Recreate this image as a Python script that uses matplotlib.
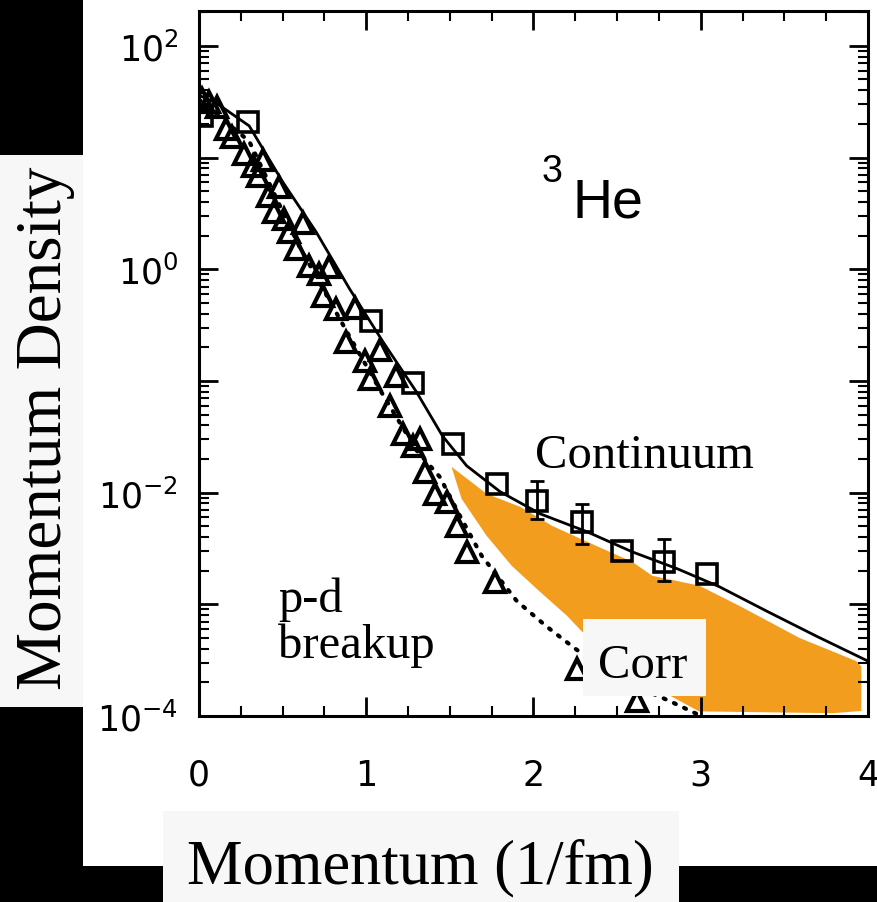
import numpy as np
import matplotlib
matplotlib.use("Agg")
import matplotlib.pyplot as plt
from matplotlib.patches import Rectangle
from matplotlib.ticker import LogLocator, MultipleLocator, FuncFormatter, NullFormatter

W, H = 878, 903

# total momentum density (squares, data)
k_sq = [0.02, 0.29, 1.03, 1.28, 1.52, 1.78, 2.02, 2.29, 2.53, 2.78, 3.04]
n_sq = [23.6, 21.0, 0.345, 0.096, 0.0274, 0.012, 0.00845, 0.0055, 0.0030, 0.0024, 0.00188]
# error bars on a few squares
k_err = [2.02, 2.29, 2.78]
n_err = [0.00845, 0.0055, 0.0024]
n_err_lo = [0.00582, 0.00348, 0.00162]
n_err_hi = [0.01277, 0.00794, 0.00386]

# p-d breakup (triangles)
k_tri = [0.02, 0.06, 0.11, 0.16, 0.20, 0.27, 0.32, 0.35, 0.41, 0.45, 0.51, 0.54, 0.58,
         0.66, 0.72, 0.74, 0.82, 0.88, 0.99, 1.02, 1.14, 1.22, 1.28, 1.32, 1.35, 1.41,
         1.48, 1.54, 1.60, 1.77, 2.26, 2.62,
         0.38, 0.48, 0.62, 0.78, 0.93, 1.08, 1.18]
n_tri = [33.6, 31.5, 28.5, 18.1, 15.3, 10.8, 8.43, 6.86, 4.54, 3.27, 2.83, 2.16, 1.52,
         1.07, 0.91, 0.578, 0.442, 0.224, 0.151, 0.104, 0.0598, 0.0336, 0.0262, 0.0303,
         0.0153, 0.00975, 0.00828, 0.00505, 0.00295, 0.00159, 2.64e-4, 1.37e-4,
         9.5, 5.5, 2.6, 1.05, 0.45, 0.19, 0.11]

# theory: total (solid)
k_tot = [0, 0.1, 0.3, 0.5, 0.7, 0.9, 1.1, 1.3, 1.455, 1.6, 1.8, 2.04, 2.32, 2.59,
         2.86, 3.11, 3.40, 3.69, 4.0]
n_tot = [36, 31, 19.2, 6.06, 2.16, 0.668, 0.224, 0.0798, 0.0323, 0.0174, 0.0102,
         0.00646, 0.00446, 0.00295, 0.00208, 0.00144, 8.6e-4, 5.2e-4, 3.1e-4]

# theory: p-d breakup (dotted)
k_pd = [0, 0.3, 0.6, 0.9, 1.1, 1.3, 1.44, 1.56, 1.69, 1.90, 2.08, 2.25, 2.51, 2.81, 2.99]
n_pd = [33, 14, 1.6, 0.25, 0.075, 0.024, 0.0138, 0.0062, 0.00272, 1.07e-3, 6.3e-4,
        4.0e-4, 2.15e-4, 1.37e-4, 1.02e-4]

# correlation region (orange outline)
k_corr = [1.51, 1.72, 1.92, 2.11, 2.32, 2.59, 2.71, 2.99, 3.23, 3.59, 3.93, 3.96, 3.96,
          3.79, 2.99, 2.93, 2.63, 2.29, 2.20, 2.04, 1.87, 1.72, 1.57]
n_corr = [0.0170, 0.00975, 0.00746, 0.00505, 0.00363, 0.0024, 0.0018, 0.00147, 9.7e-4,
          5.0e-4, 3.1e-4, 2.77e-4, 1.11e-4, 1.06e-4, 1.1e-4, 1.23e-4, 2.15e-4, 5.7e-4,
          7.9e-4, 1.29e-3, 2.21e-3, 4.1e-3, 8.8e-3]

fig = plt.figure(figsize=(W / 100, H / 100), dpi=100)
fig.patch.set_facecolor("white")


def box(x0, y0, x1, y1, color, z=0):
    # pixel box, y measured from the top
    fig.add_artist(Rectangle((x0 / W, 1 - y1 / H), (x1 - x0) / W, (y1 - y0) / H,
                             transform=fig.transFigure, color=color, lw=0, zorder=z))


def label(x, y, s, **kw):
    fig.text(x / W, 1 - y / H, s, **kw)


# black framing and grey label boxes
box(0, 0, 83, 156, "black")
box(0, 708, 83, H, "black")
box(0, 867, W, H, "black")
box(0, 156, 83, 708, "#f7f7f7")
box(163, 812, 679, H, "#f7f7f7")

ax = fig.add_axes([199 / W, 1 - 717 / H, (868 - 199) / W, (717 - 12) / H])
ax.set_yscale("log")
ax.set_xlim(0, 4)
ax.set_ylim(1e-4, 205)

ax.fill(k_corr, n_corr, color="#F29D1E", lw=0, zorder=1.5)
ax.plot(k_tot, n_tot, color="black", lw=2, zorder=2)
ax.plot(k_pd, n_pd, color="black", lw=3, ls=(0, (0.5, 2.2)), dash_capstyle="round", zorder=2)
ax.plot(k_tri, n_tri, ls="none", marker="^", ms=15, mfc="none", mec="black", mew=3, zorder=3)
ax.plot(k_sq, n_sq, ls="none", marker="s", ms=14, mfc="none", mec="black", mew=2.6, zorder=3)
ax.errorbar(k_err, n_err,
            yerr=[np.array(n_err) - np.array(n_err_lo), np.array(n_err_hi) - np.array(n_err)],
            fmt="none", ecolor="black", elinewidth=2, capsize=5, capthick=2, zorder=3)

ax.xaxis.set_major_locator(MultipleLocator(1))
ax.xaxis.set_minor_locator(MultipleLocator(0.25))
ax.yaxis.set_major_locator(LogLocator(base=10, numticks=20))
ax.yaxis.set_minor_locator(LogLocator(base=10, subs=np.arange(2, 10), numticks=20))
ax.yaxis.set_minor_formatter(NullFormatter())


def fmt_y(v, pos):
    e = int(round(np.log10(v)))
    return f"$10^{{{e}}}$" if e % 2 == 0 else ""


ax.yaxis.set_major_formatter(FuncFormatter(fmt_y))
ax.tick_params(which="both", direction="in", top=True, right=True)
ax.tick_params(which="major", length=14, width=2, labelsize=25)
ax.tick_params(which="minor", length=7, width=1.5)
ax.tick_params(axis="x", which="major", pad=30)
ax.tick_params(axis="y", which="major", pad=15)
for sp in ax.spines.values():
    sp.set_linewidth(2.2)

serif = "Liberation Serif"
label(45, 428, "Momentum Density", rotation=90, ha="center", va="center",
      family=serif, size=47)
label(420, 883, "Momentum (1/fm)", ha="center", va="baseline", family=serif, size=45)
label(535, 468, "Continuum", ha="left", va="baseline", family=serif, size=35)
for i, line in enumerate(["p-d", "breakup"]):
    label(278, 612 + 46 * i, line, ha="left", va="baseline", family=serif, size=35)
box(583, 620, 706, 697, "#f7f7f7", z=5)
label(598, 678, "Corr", ha="left", va="baseline", family=serif, size=35, zorder=6)
label(542, 182, "3", ha="left", va="baseline", family="Liberation Sans", size=27)
label(573, 217, "He", ha="left", va="baseline", family="Liberation Sans", size=40)

fig.savefig("out.png", dpi=100)
